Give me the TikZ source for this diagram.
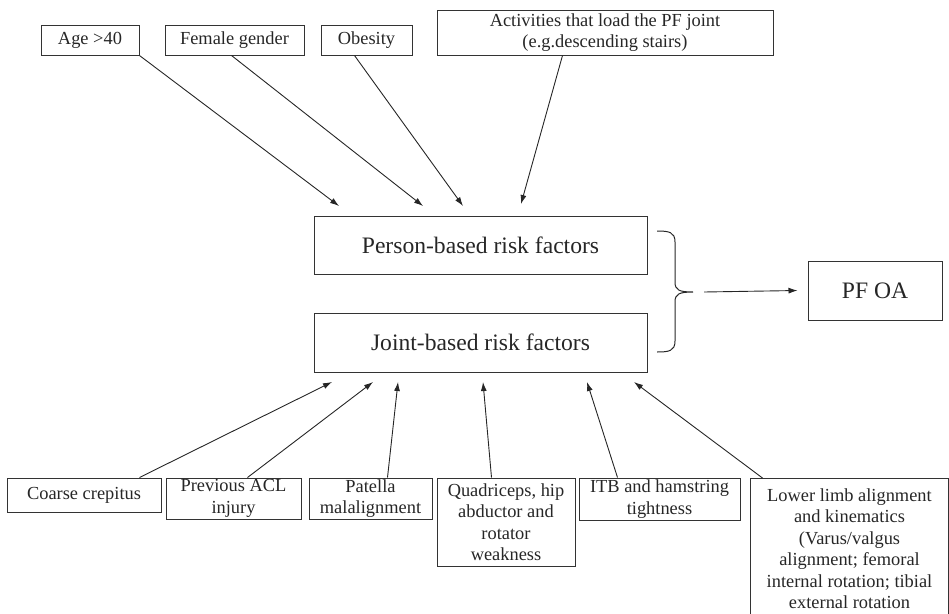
\documentclass[tikz,border=0pt]{standalone}
\usepackage{fontspec}
\setmainfont{Liberation Serif}
\usetikzlibrary{arrows.meta,calc}
\begin{document}
\begin{tikzpicture}[x=1pt,y=-1pt,
  box/.style={draw=black!80,line width=1pt,inner sep=0pt,align=center,text=black!85,
    font=\fontsize{18.4}{21.5}\selectfont},
  bigbox/.style={box,font=\fontsize{23.6}{28}\selectfont},
  arr/.style={line width=0.9pt,draw=black!85,-{Latex[length=9pt,width=6pt]}},
  brace/.style={line width=1pt,draw=black!85}]
\useasboundingbox (0,0) rectangle (949,613);
\clip (0,0) rectangle (949,613);
% top boxes
\node[box,minimum width=98pt,minimum height=30pt] (age) at (90,40) {Age >40};
\node[box,minimum width=139pt,minimum height=30pt] (fem) at (234.5,40) {Female gender};
\node[box,minimum width=91pt,minimum height=30pt] (obe) at (366.5,40) {Obesity};
\node[box,minimum width=336pt,minimum height=45pt] (act) at (605,32.5) {Activities that load the PF joint\\(e.g.descending stairs)};
% central boxes
\node[bigbox,minimum width=333pt,minimum height=58pt] (person) at (480.5,245) {Person-based risk factors};
\node[bigbox,minimum width=333pt,minimum height=59pt] (joint) at (480.5,342.5) {Joint-based risk factors};
\node[bigbox,minimum width=134pt,minimum height=59pt] (pfoa) at (875,290.5) {PF OA};
% bottom boxes
\node[box,minimum width=154pt,minimum height=34pt] (coarse) at (84,495) {Coarse crepitus};
\node[box,minimum width=135pt,minimum height=41pt] (acl) at (233.5,498.5) {Previous ACL\\injury};
\node[box,minimum width=123pt,minimum height=41pt] (pat) at (370.5,498.5) {Patella\\malalignment};
\node[box,minimum width=138pt,minimum height=88pt] (quad) at (506,522) {Quadriceps, hip\\abductor and\\rotator\\weakness};
\node[box,minimum width=161pt,minimum height=42pt] (itb) at (659.5,499) {ITB and hamstring\\tightness};
\node[box,draw=none,minimum width=197pt,inner ysep=10pt,anchor=north] (lower) at (849.5,478) {Lower limb alignment\\and kinematics\\(Varus/valgus\\alignment; femoral\\internal rotation; tibial\\external rotation};
\draw[black!80,line width=1pt] ($(lower.north west)+(0,200)$) -- (lower.north west) -- (lower.north east) -- ++(0,200);
% arrow tips
\coordinate (t1) at (339,206);
\coordinate (t2) at (423,206);
\coordinate (t3) at (463,206);
\coordinate (t4) at (521,204);
\coordinate (b1) at (332,382);
\coordinate (b2) at (373,382);
\coordinate (b3) at (398,382);
\coordinate (b4) at (483,382);
\coordinate (b5) at (587,382);
\coordinate (b6) at (634,382);
% top arrows
\draw[arr] (age.south east) -- (t1);
\draw[arr] ($(fem.south west)+(67,0)$) -- (t2);
\draw[arr] ($(obe.south west)+(34,0)$) -- (t3);
\draw[arr] ($(act.south west)+(126,0)$) -- (t4);
% bottom arrows
\draw[arr] ($(coarse.north west)+(133,0)$) -- (b1);
\draw[arr] ($(acl.north west)+(82,0)$) -- (b2);
\draw[arr] ($(pat.north west)+(79,0)$) -- (b3);
\draw[arr] ($(quad.north west)+(55,0)$) -- (b4);
\draw[arr] ($(itb.north west)+(39,0)$) -- (b5);
\draw[arr] ($(lower.north west)+(12,0)$) -- (b6);
% brace
\coordinate (bracetip) at (693,292);
\draw[brace] (657,231) .. controls (669,231) and (675,232) .. (675,242) -- (675,282)
  .. controls (675,290) and (679,292) .. (bracetip)
  .. controls (679,292) and (675,294) .. (675,302) -- (675,341)
  .. controls (675,351) and (669,352) .. (657,352);
\draw[arr] ([xshift=11pt]bracetip) -- ([xshift=-10pt]pfoa.west);
\end{tikzpicture}
\end{document}
